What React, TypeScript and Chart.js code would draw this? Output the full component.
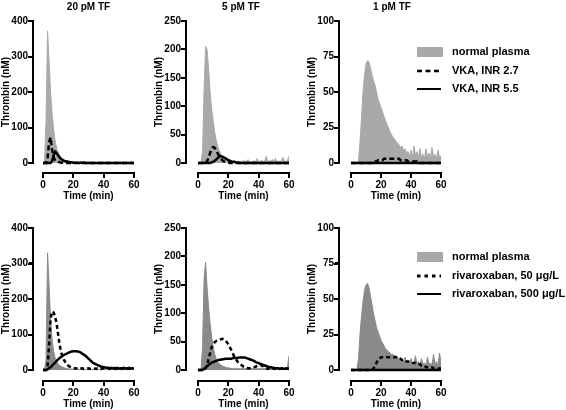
import React, { useEffect, useRef, useState } from "react";
import { Chart, registerables } from "chart.js";

Chart.register(...registerables);

// ---------------- data ----------------
const TIME = [
  0, 1, 2, 3, 4, 5, 6, 7, 8, 9,
  10, 11, 12, 13, 14, 15, 16, 17, 18, 19,
  20, 21, 22, 23, 24, 25, 26, 27, 28, 29,
  30, 31, 32, 33, 34, 35, 36, 37, 38, 39,
  40, 41, 42, 43, 44, 45, 46, 47, 48, 49,
  50, 51, 52, 53, 54, 55, 56, 57, 58, 59,
  60,
];
const X_TICKS = [0, 20, 40, 60];
const Y_TICKS_400 = [0, 100, 200, 300, 400];
const Y_TICKS_250 = [0, 50, 100, 150, 200, 250];
const Y_TICKS_100 = [0, 25, 50, 75, 100];

const TITLES = ["20 pM TF", "5 pM TF", "1 pM TF"];
const Y_LABEL = "Thrombin (nM)";
const X_LABEL = "Time (min)";
const LEGEND_VKA = ["normal plasma", "VKA, INR 2.7", "VKA, INR 5.5"];
const LEGEND_RIVA = ["normal plasma", "rivaroxaban, 50 \u03bcg/L", "rivaroxaban, 500 \u03bcg/L"];

// Row 1: VKA
const NP_20_A = [
  0, 0, 120, 372, 285, 200, 140, 95, 62, 42,
  30, 22, 16, 12, 9, 7, 5, 4, 3, 3,
  2, 2, 1, 2, 1, 3, 1, 2, 1, 2,
  4, 1, 2, 1, 3, 1, 2, 1, 2, 3,
  1, 2, 1, 4, 1, 2, 1, 3, 2, 1,
  2, 4, 1, 2, 1, 3, 1, 2, 4, 1,
  2,
];
const INR27_20 = [
  0, 0, 0, 12, 58, 72, 38, 15, 8, 5,
  3, 2, 1, 1, 1, 0, 0, 0, 0, 0,
  0, 0, 0, 0, 0, 0, 0, 0, 0, 0,
  0, 0, 0, 0, 0, 0, 0, 0, 0, 0,
  0, 0, 0, 0, 0, 0, 0, 0, 0, 0,
  0, 0, 0, 0, 0, 0, 0, 0, 0, 0,
  0,
];
const INR55_20 = [
  0, 0, 0, 0, 0, 0, 6, 22, 32, 28,
  21, 15, 11, 8, 6, 5, 4, 3, 2, 2,
  1, 1, 1, 1, 0, 1, 0, 1, 0, 0,
  0, 0, 0, 0, 0, 0, 0, 0, 0, 0,
  0, 0, 0, 0, 0, 0, 0, 0, 0, 0,
  0, 0, 0, 0, 0, 0, 0, 0, 0, 0,
  0,
];

const NP_5_A = [
  0, 0, 0, 20, 130, 205, 200, 165, 125, 95,
  75, 55, 40, 30, 22, 16, 12, 9, 7, 5,
  4, 3, 3, 2, 4, 2, 3, 2, 3, 2,
  5, 2, 3, 6, 2, 3, 2, 4, 2, 8,
  2, 3, 5, 2, 3, 12, 2, 4, 3, 6,
  2, 8, 3, 2, 4, 2, 10, 3, 2, 5,
  12,
];
const INR27_5 = [
  0, 0, 0, 0, 0, 0, 3, 10, 18, 25,
  28, 27, 22, 17, 12, 8, 5, 3, 2, 1,
  1, 0, 0, 0, 0, 0, 0, 0, 0, 0,
  0, 0, 0, 0, 0, 0, 0, 0, 0, 0,
  0, 0, 0, 0, 0, 0, 0, 0, 0, 0,
  0, 0, 0, 0, 0, 0, 0, 0, 0, 0,
  0,
];
const INR55_5 = [
  0, 0, 0, 0, 0, 0, 0, 0, 0, 1,
  2, 4, 6, 9, 11, 12, 11, 10, 8, 7,
  5, 4, 3, 2, 2, 1, 1, 0, 0, 0,
  0, 0, 0, 0, 0, 0, 0, 0, 0, 0,
  0, 0, 0, 0, 0, 0, 0, 0, 0, 0,
  0, 0, 0, 0, 0, 0, 0, 0, 0, 0,
  0,
];

const NP_1_A = [
  0, 0, 0, 0, 0, 2, 15, 32, 50, 62,
  70, 72, 71, 67, 62, 58, 55, 50, 45, 42,
  39, 36, 33, 30, 27, 25, 22, 20, 18, 17,
  15, 14, 13, 11, 12, 9, 10, 7, 8, 5,
  9, 4, 12, 5, 8, 4, 10, 4, 6, 3,
  10, 4, 7, 3, 11, 4, 6, 3, 9, 4,
  5,
];
const INR27_1 = [
  0, 0, 0, 0, 0, 0, 0, 0, 0, 0,
  0, 0, 0, 0, 0, 1, 1, 1, 2, 2,
  2, 2, 3, 3, 3, 3, 3, 3, 3, 3,
  3, 3, 3, 2, 2, 2, 2, 2, 1, 1,
  1, 1, 1, 1, 1, 0, 0, 0, 0, 0,
  0, 0, 0, 0, 0, 0, 0, 0, 0, 0,
  0,
];
const INR55_1 = [
  0, 0, 0, 0, 0, 0, 0, 0, 0, 0,
  0, 0, 0, 0, 0, 0, 0, 0, 0, 0,
  0, 0, 0, 0, 0, 0, 0, 0, 0, 0,
  0, 0, 0, 0, 0, 0, 0, 0, 0, 0,
  0, 0, 0, 0, 0, 0, 0, 0, 0, 0,
  0, 0, 0, 0, 0, 0, 0, 0, 0, 0,
  0,
];

// Row 2: rivaroxaban
const NP_20_B = [
  0, 0, 30, 330, 240, 140, 85, 52, 34, 24,
  17, 13, 10, 8, 6, 5, 4, 3, 3, 2,
  2, 2, 1, 2, 1, 2, 1, 1, 2, 1,
  1, 2, 1, 1, 2, 1, 1, 2, 1, 1,
  2, 1, 1, 2, 1, 1, 2, 1, 1, 2,
  1, 1, 2, 1, 1, 2, 1, 1, 2, 1,
  1,
];
const RIVA50_20 = [
  0, 0, 0, 8, 70, 145, 165, 162, 150, 130,
  100, 70, 50, 36, 27, 20, 15, 11, 9, 7,
  6, 5, 4, 5, 3, 4, 5, 3, 4, 4,
  5, 3, 4, 5, 4, 3, 5, 4, 3, 4,
  5, 3, 4, 5, 3, 4, 5, 6, 3, 4,
  5, 4, 3, 5, 4, 6, 3, 4, 5, 4,
  5,
];
const RIVA500_20 = [
  0, 0, 0, 2, 5, 8, 12, 17, 21, 26,
  30, 34, 37, 40, 43, 45, 47, 49, 51, 52,
  53, 53, 53, 52, 51, 49, 46, 43, 40, 36,
  32, 28, 24, 20, 18, 16, 14, 12, 10, 9,
  8, 7, 6, 6, 5, 6, 5, 4, 5, 6,
  4, 5, 4, 6, 5, 4, 5, 6, 4, 5,
  5,
];

const NP_5_B = [
  0, 0, 0, 40, 160, 190, 145, 110, 82, 58,
  40, 28, 20, 14, 11, 9, 7, 6, 5, 4,
  4, 3, 3, 2, 3, 2, 3, 2, 2, 3,
  2, 2, 3, 2, 2, 3, 2, 2, 3, 2,
  2, 3, 2, 2, 3, 2, 2, 3, 2, 2,
  3, 2, 2, 3, 2, 2, 3, 2, 2, 4,
  25,
];
const RIVA50_5 = [
  0, 0, 0, 0, 0, 3, 8, 20, 30, 40,
  45, 49, 51, 52, 53, 54, 55, 54, 52, 49,
  45, 40, 35, 29, 23, 19, 15, 12, 10, 8,
  6, 5, 4, 3, 3, 3, 4, 5, 6, 7,
  8, 9, 8, 6, 4, 3, 2, 3, 2, 3,
  2, 3, 2, 3, 2, 2, 3, 2, 3, 2,
  2,
];
const RIVA500_5 = [
  0, 0, 0, 0, 2, 4, 7, 9, 11, 13,
  14, 15, 16, 17, 18, 18, 19, 19, 20, 20,
  20, 20, 20, 21, 21, 21, 21, 22, 22, 22,
  22, 22, 21, 20, 19, 18, 17, 16, 14, 13,
  12, 11, 10, 9, 8, 7, 6, 5, 5, 4,
  4, 3, 3, 3, 2, 3, 2, 2, 3, 2,
  2,
];

const NP_1_B = [
  0, 0, 0, 0, 1, 8, 25, 38, 48, 56,
  60, 61, 58, 52, 46, 40, 35, 30, 27, 24,
  21, 19, 17, 15, 14, 13, 12, 11, 11, 10,
  10, 9, 8, 7, 7, 6, 9, 5, 6, 4,
  8, 4, 5, 10, 4, 6, 3, 8, 4, 5,
  3, 9, 4, 5, 3, 11, 4, 6, 3, 12,
  5,
];
const RIVA50_1 = [
  0, 0, 0, 0, 0, 0, 0, 0, 0, 0,
  0, 0, 0, 0, 0, 1, 3, 5, 7, 8,
  9, 9, 9, 9, 9, 9, 9, 9, 9, 9,
  9, 8, 8, 8, 7, 7, 7, 6, 6, 6,
  5, 5, 5, 5, 4, 4, 4, 3, 3, 3,
  2, 2, 2, 2, 2, 1, 1, 1, 1, 1,
  1,
];
const RIVA500_1 = [
  0, 0, 0, 0, 0, 0, 0, 0, 0, 0,
  0, 0, 0, 0, 0, 0, 0, 0, 0, 0,
  0, 0, 0, 0, 0, 0, 0, 0, 0, 0,
  0, 0, 0, 0, 0, 0, 0, 0, 0, 0,
  0, 0, 0, 0, 0, 0, 0, 0, 0, 0,
  0, 0, 0, 0, 0, 0, 0, 0, 0, 0,
  0,
];

// ---------------- styling / layout ----------------
const FONT = '"Liberation Sans", Arial, Helvetica, sans-serif';
const GRAY_TOP = "#a9a9a9";
const GRAY_BOTTOM = "#8a8a8a";
const GRAY_LEGEND = "#a9a9a9";

const COL_AXIS_X = [33, 186, 339];
const COL_X0 = [43, 198, 351];
const COL_X60 = [134, 289, 441];
const COL_CANVAS_L = [0, 143, 298];
const COL_CANVAS_R = [143, 298, 566];
const COL_TITLE_X = [88.5, 241, 392];

const ROW_Y_TOP = [21, 228];
const ROW_Y0 = [163, 370];
const ROW_X_AXIS_Y = [173, 381];
const ROW_CANVAS_T = [0, 205];
const ROW_CANVAS_B = [205, 410];
const ROW_LEGEND_Y = [52, 257];

const PANEL_YMAX = [400, 250, 100, 400, 250, 100];
const PANEL_YTICKS = [Y_TICKS_400, Y_TICKS_250, Y_TICKS_100, Y_TICKS_400, Y_TICKS_250, Y_TICKS_100];
const PANEL_GRAY = [NP_20_A, NP_5_A, NP_1_A, NP_20_B, NP_5_B, NP_1_B];
const PANEL_DASHED = [INR27_20, INR27_5, INR27_1, RIVA50_20, RIVA50_5, RIVA50_1];
const PANEL_SOLID = [INR55_20, INR55_5, INR55_1, RIVA500_20, RIVA500_5, RIVA500_1];

type Geom = {
  axisX: number;
  yTopPx: number;
  y0Px: number;
  xAxisY: number;
  x0Px: number;
  x60Px: number;
  yTickPx: number[];
  xTickPx: number[];
};

function Panel({ idx }: { idx: number }) {
  const ref = useRef<HTMLCanvasElement | null>(null);
  const [geom, setGeom] = useState<Geom | null>(null);
  const col = idx % 3;
  const row = Math.floor(idx / 3);
  const left = COL_CANVAS_L[col];
  const top = ROW_CANVAS_T[row];
  const width = COL_CANVAS_R[col] - left;
  const height = ROW_CANVAS_B[row] - top;

  useEffect(() => {
    const canvas = ref.current!;
    const axisX = COL_AXIS_X[col];
    const x0 = COL_X0[col];
    const x60 = COL_X60[col];
    const yTop = ROW_Y_TOP[row];
    const y0 = ROW_Y0[row];
    const xAxisY = ROW_X_AXIS_Y[row];
    const yMax = PANEL_YMAX[idx];
    const padL = axisX - left;
    const padR = COL_CANVAS_R[col] - x60;
    const padT = yTop - top;
    const padB = ROW_CANVAS_B[row] - xAxisY;

    const pxPerMin = (x60 - x0) / 60;
    const xMin = -(x0 - axisX) / pxPerMin;
    const pxPerUnit = (y0 - yTop) / yMax;
    const yMin = -(xAxisY - y0) / pxPerUnit;
    const grayColor = row === 0 ? GRAY_TOP : GRAY_BOTTOM;
    const dash = row === 0 ? [5, 3] : [4, 3];
    const yTicks = PANEL_YTICKS[idx];

    const textPlugin = {
      id: "panelTexts",
      afterDraw(chart: any) {
        const ctx = chart.ctx;
        const xs = chart.scales.x;
        const ys = chart.scales.y;
        ctx.save();
        ctx.setLineDash([]);
        ctx.fillStyle = "#000";
        ctx.font = `bold 10px ${FONT}`;
        ctx.textAlign = "center";
        ctx.textBaseline = "middle";
        if (row === 0) ctx.fillText(TITLES[col], COL_TITLE_X[col] - left, 7 - top);
        ctx.fillText(X_LABEL, (xs.getPixelForValue(0) + xs.getPixelForValue(60)) / 2, chart.chartArea.bottom + 23);
        ctx.save();
        ctx.translate(axisX - 27 - left, (ys.getPixelForValue(0) + ys.getPixelForValue(yMax)) / 2);
        ctx.rotate(-Math.PI / 2);
        ctx.fillText(Y_LABEL, 0, 0);
        ctx.restore();

        if (col === 2) {
          const labels = row === 0 ? LEGEND_VKA : LEGEND_RIVA;
          const ly = ROW_LEGEND_Y[row] - top;
          const rowsY = [ly, ly + 19, ly + 37];
          const sx = 417 - left;
          ctx.fillStyle = GRAY_LEGEND;
          ctx.fillRect(sx, rowsY[0] - 5, 26, 10);
          ctx.strokeStyle = "#000";
          ctx.lineWidth = row === 0 ? 2.5 : 3;
          ctx.setLineDash(row === 0 ? [5, 3.5] : [3.5, 4]);
          ctx.beginPath();
          ctx.moveTo(sx, rowsY[1]);
          ctx.lineTo(sx + 24, rowsY[1]);
          ctx.stroke();
          ctx.setLineDash([]);
          ctx.lineWidth = 2;
          ctx.beginPath();
          ctx.moveTo(sx, rowsY[2]);
          ctx.lineTo(sx + 24, rowsY[2]);
          ctx.stroke();
          ctx.fillStyle = "#000";
          ctx.font = `bold 11px ${FONT}`;
          ctx.textAlign = "left";
          labels.forEach((l, i) => ctx.fillText(l, 452 - left, rowsY[i]));
        }
        ctx.restore();
      },
    };

    const tickFont = { family: FONT, size: 10, weight: "bold" as const };
    const ds: any[] = [
      {
        data: TIME.map((t, i) => ({ x: t, y: PANEL_DASHED[idx][i] })),
        borderColor: "#000",
        borderWidth: 2.5,
        borderDash: dash,
        pointRadius: 0,
        fill: false,
        tension: 0,
      },
      {
        data: TIME.map((t, i) => ({ x: t, y: PANEL_SOLID[idx][i] })),
        borderColor: "#000",
        borderWidth: 2.5,
        pointRadius: 0,
        fill: false,
        tension: 0,
      },
      {
        data: TIME.map((t, i) => ({ x: t, y: PANEL_GRAY[idx][i] })),
        borderColor: grayColor,
        backgroundColor: grayColor,
        fill: "origin",
        pointRadius: 0,
        borderWidth: 1,
        tension: 0,
      },
    ];

    const chart = new Chart(canvas, {
      type: "line",
      data: { datasets: ds },
      options: {
        responsive: false,
        animation: false,
        layout: { padding: { left: 0, right: padR, top: padT, bottom: 0 } },
        plugins: { legend: { display: false } },
        scales: {
          x: {
            type: "linear", min: xMin, max: 60,
            afterBuildTicks: (s: any) => { s.ticks = X_TICKS.map((v) => ({ value: v })); },
            afterFit: (s: any) => { s.height = padB; },
            grid: { display: true, drawOnChartArea: false, drawTicks: true, tickLength: 4, color: "#000", lineWidth: 2 },
            border: { display: false },
            ticks: { font: tickFont, color: "#000", padding: 2, maxRotation: 0, autoSkip: false },
          },
          y: {
            type: "linear", min: yMin, max: yMax,
            afterBuildTicks: (s: any) => { s.ticks = yTicks.map((v) => ({ value: v })); },
            afterFit: (s: any) => { s.width = padL; },
            grid: { display: true, drawOnChartArea: false, drawTicks: true, tickLength: 4, color: "#000", lineWidth: 2 },
            border: { display: false },
            ticks: { font: tickFont, color: "#000", padding: 1, autoSkip: false },
          },
        },
      },
      plugins: [textPlugin],
    } as any);

    // axis geometry taken from the chart's own scales (drawn as crisp overlay lines)
    const xs: any = chart.scales.x;
    const ys: any = chart.scales.y;
    const ca = chart.chartArea;
    setGeom({
      axisX: left + ca.left,
      yTopPx: top + ys.getPixelForValue(yMax),
      y0Px: top + ys.getPixelForValue(0),
      xAxisY: top + ca.bottom,
      x0Px: left + xs.getPixelForValue(0),
      x60Px: left + xs.getPixelForValue(60),
      yTickPx: yTicks.map((v) => top + ys.getPixelForValue(v)),
      xTickPx: X_TICKS.map((v) => left + xs.getPixelForValue(v)),
    });
    return () => chart.destroy();
  }, []);

  const black = "#000";
  return (
    <>
      <canvas ref={ref} width={width} height={height} style={{ position: "absolute", left, top, width, height }} />
      {geom && (
        <>
          <div style={{ position: "absolute", left: Math.round(geom.axisX) - 1, top: Math.round(geom.yTopPx) - 1, width: 2, height: Math.round(geom.y0Px) - Math.round(geom.yTopPx) + 2, background: black }} />
          {geom.yTickPx.map((py, i) => (
            <div key={"yt" + i} style={{ position: "absolute", left: Math.round(geom.axisX) - 5, top: Math.round(py) - 1, width: 4, height: 2, background: black }} />
          ))}
          <div style={{ position: "absolute", left: Math.round(geom.x0Px) - 1, top: Math.round(geom.xAxisY) - 1, width: Math.round(geom.x60Px) - Math.round(geom.x0Px) + 2, height: 2, background: black }} />
          {geom.xTickPx.map((px, i) => (
            <div key={"xt" + i} style={{ position: "absolute", left: Math.round(px) - 1, top: Math.round(geom.xAxisY) + 1, width: 2, height: 4, background: black }} />
          ))}
        </>
      )}
    </>
  );
}

export default function App() {
  return (
    <div style={{ position: "fixed", left: 0, top: 0, width: 566, height: 410, background: "#fff", fontFamily: FONT, fontWeight: "bold", color: "#000", overflow: "hidden" }}>
      <Panel idx={0} />
      <Panel idx={1} />
      <Panel idx={2} />
      <Panel idx={3} />
      <Panel idx={4} />
      <Panel idx={5} />
    </div>
  );
}
